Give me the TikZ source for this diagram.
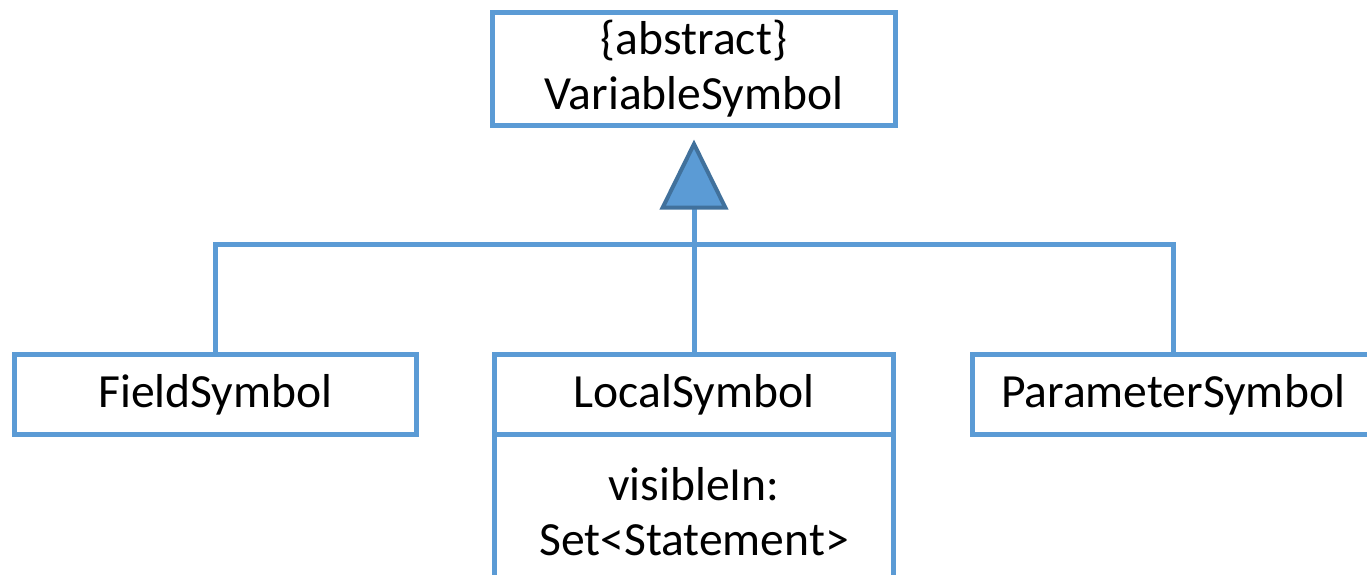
\documentclass[tikz,border=0pt]{standalone}
\usepackage{fontspec}
\setmainfont{Carlito}
\usetikzlibrary{arrows.meta,positioning}
\definecolor{umlblue}{HTML}{5B9BD5}
\definecolor{umldark}{HTML}{41719C}
\tikzset{
  classbox/.style={draw=umlblue, line width=2.5pt, fill=white, minimum height=40pt,
    inner sep=0pt, outer sep=0pt, align=center, font=\fontsize{23.8}{27.5}\selectfont},
  link/.style={draw=umlblue, line width=2.5pt},
}

\begin{document}
\begin{tikzpicture}[x=0.5pt,y=-0.5pt]
\useasboundingbox (0,0) rectangle (1367,574);
\clip (0,0) rectangle (1367,574);
% classes
\node[classbox, minimum width=201.5pt, minimum height=56.5pt] (var) at (694,69) {\{abstract\}\\VariableSymbol};
\node[classbox, minimum width=201pt] (field) at (215.5,394.5) {FieldSymbol};
\node[classbox, minimum width=199.5pt] (local) at (694,394.5) {LocalSymbol};
\node[classbox, minimum width=199.5pt, minimum height=77pt, below=0pt of local] (attr) {visibleIn:\\Set<Statement>};
\node[classbox, minimum width=200.5pt] (param) at (1173,394.5) {ParameterSymbol};
% generalization
\coordinate (hub) at (694,244);
\draw[link] (field.north) |- (hub) -| (param.north);
\draw[link] (local.north) -- (hub);
\draw[link, shorten >=7pt, -{Triangle[length=35pt, width=34pt, color=umldark, fill=umlblue, line width=2pt]}] (hub) -- (var.south);
\end{tikzpicture}
\end{document}
